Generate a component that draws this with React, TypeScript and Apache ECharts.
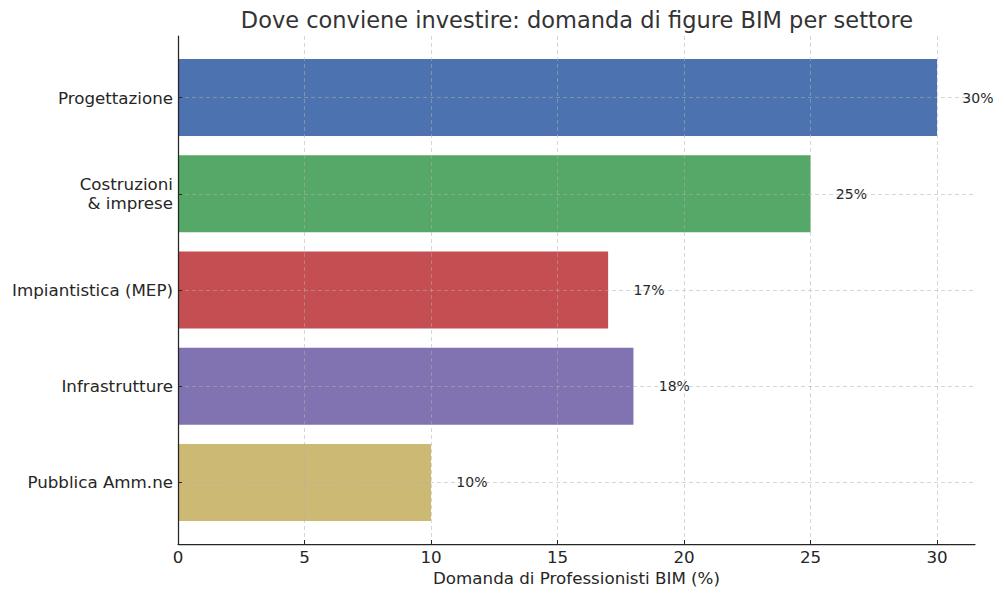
import React, { useEffect, useRef } from "react";
import * as echarts from "echarts";

const categories = [
  "Progettazione",
  "Costruzioni\n& imprese",
  "Impiantistica (MEP)",
  "Infrastrutture",
  "Pubblica Amm.ne",
];
const values = [30, 25, 17, 18, 10];
const colors = ["#4C72B0", "#55A868", "#C44E52", "#8172B2", "#CCB974"];
const xTicks = [0, 5, 10, 15, 20, 25, 30];
const yTicks = [0, 1, 2, 3, 4];
const X_MAX = 31.5;
const LABEL_OFFSET = 1;
const BAR_HEIGHT = 0.8;

const FONT = "DejaVu Sans";

export default function App() {
  const ref = useRef<HTMLDivElement>(null);
  useEffect(() => {
    if (!ref.current) return;
    const chart = echarts.init(ref.current, undefined, { renderer: "svg" });
    const gridLine = { color: "rgba(176,176,176,0.65)", type: [4, 3] as any, width: 0.8 };
    chart.setOption({
      animation: false,
      backgroundColor: "#ffffff",
      title: {
        text: "Dove conviene investire: domanda di figure BIM per settore",
        left: 577,
        top: 8,
        padding: 0,
        textAlign: "center",
        textStyle: { fontFamily: FONT, fontSize: 22.5, fontWeight: "normal", color: "#333333" },
      },
      grid: { left: 178, right: 29, top: 36, bottom: 54 },
      xAxis: {
        type: "value",
        min: 0,
        max: X_MAX,
        z: 5,
        name: "Domanda di Professionisti BIM (%)",
        nameLocation: "middle",
        nameGap: 25,
        nameTextStyle: { fontFamily: FONT, fontSize: 16.7, color: "#262626" },
        axisLine: { show: true, onZero: false, lineStyle: { color: "#262626", width: 1.25 } },
        axisTick: { show: true, inside: true, length: 4, customValues: xTicks, lineStyle: { color: "#262626", width: 1 } },
        axisLabel: { customValues: xTicks, fontFamily: FONT, fontSize: 16.7, color: "#262626", margin: 4 },
        splitLine: { show: true, lineStyle: gridLine },
      },
      yAxis: {
        type: "value",
        min: -0.64,
        max: 4.64,
        inverse: true,
        z: 5,
        axisLine: { show: true, onZero: false, lineStyle: { color: "#262626", width: 1.25 } },
        axisTick: { show: true, inside: true, length: 4, customValues: yTicks, lineStyle: { color: "#262626", width: 1 } },
        axisLabel: {
          customValues: yTicks,
          formatter: (v: number) => categories[Math.round(v)] ?? "",
          fontFamily: FONT,
          fontSize: 16.7,
          color: "#262626",
          margin: 5,
          lineHeight: 19,
          align: "right",
        },
        splitLine: { show: true, lineStyle: gridLine },
      },
      series: [
        {
          type: "custom",
          z: 2,
          data: values.map((v, i) => [v, i]),
          encode: { x: 0, y: 1 },
          renderItem: (params: any, api: any) => {
            const v = api.value(0);
            const idx = api.value(1);
            const start = api.coord([0, idx]);
            const end = api.coord([v, idx]);
            const h = Math.abs(api.size([0, BAR_HEIGHT])[1]);
            const lp = api.coord([v + LABEL_OFFSET, idx]);
            return {
              type: "group",
              children: [
                {
                  type: "rect",
                  shape: { x: start[0], y: start[1] - h / 2, width: end[0] - start[0], height: h },
                  style: { fill: colors[params.dataIndex] },
                },
                {
                  type: "text",
                  x: lp[0],
                  y: lp[1],
                  style: {
                    text: v + "%",
                    fill: "#262626",
                    fontFamily: FONT,
                    fontSize: 14,
                    align: "left",
                    verticalAlign: "middle",
                  },
                },
              ],
            };
          },
        },
      ],
    });
    return () => chart.dispose();
  }, []);
  return (
    <div
      ref={ref}
      style={{ position: "fixed", left: 0, top: 0, width: 1004, height: 598, background: "#fff" }}
    />
  );
}
